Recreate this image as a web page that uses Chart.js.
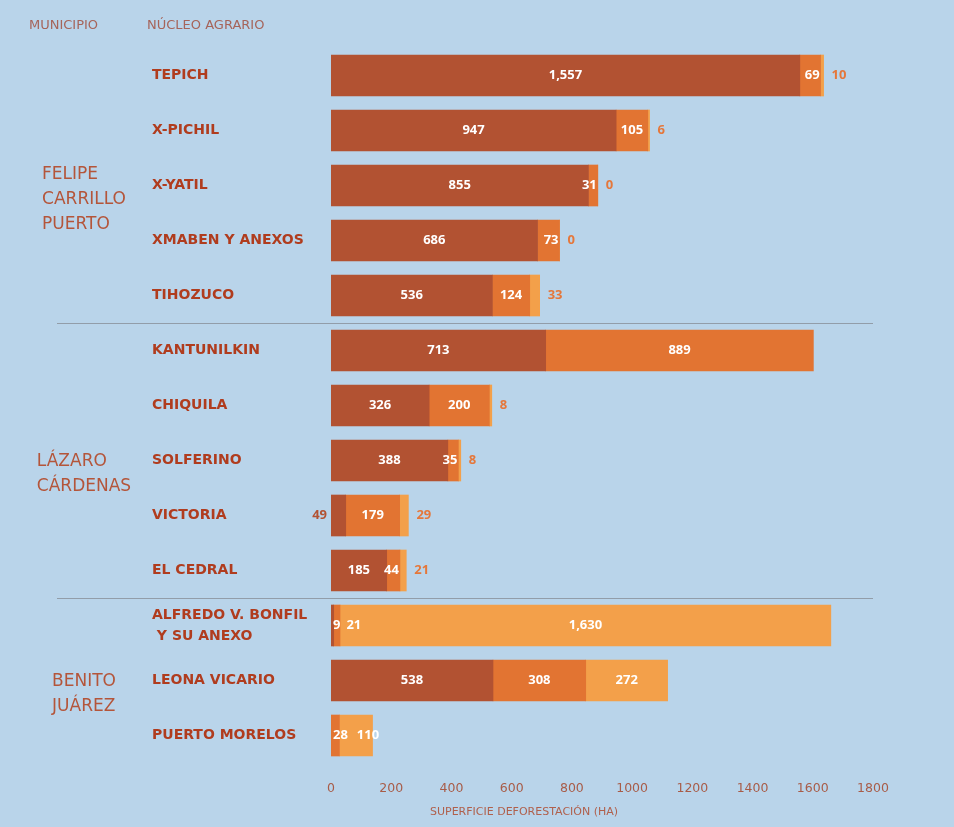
<!DOCTYPE html>
<html>
<head>
<meta charset="utf-8">
<script src="https://cdn.jsdelivr.net/npm/chart.js@4/dist/chart.umd.min.js"></script>
<style>
  body { margin: 0; background: #b9d4ea; }
  #contenedor { width: 954px; height: 827px; position: relative; }
</style>
</head>
<body>
<div id="contenedor"><canvas id="grafica"></canvas></div>
<script>
const nucleos = [
  'TEPICH', 'X-PICHIL', 'X-YATIL', 'XMABEN Y ANEXOS', 'TIHOZUCO',
  'KANTUNILKIN', 'CHIQUILA', 'SOLFERINO', 'VICTORIA', 'EL CEDRAL',
  ['ALFREDO V. BONFIL', ' Y SU ANEXO'], 'LEONA VICARIO', 'PUERTO MORELOS'
];
const municipios = [['FELIPE', 'CARRILLO', 'PUERTO'], ['LÁZARO', 'CÁRDENAS'], ['BENITO', 'JUÁREZ']];
const inicioGrupo = [0, 5, 10];
const finGrupo = [4, 9, 12];

const periodo1 = [1557, 947, 855, 686, 536, 713, 326, 388, 49, 185, 9, 538, null];
const periodo2 = [69, 105, 31, 73, 124, 889, 200, 35, 179, 44, 21, 308, 28];
const periodo3 = [10, 6, 0, 0, 33, null, 8, 8, 29, 21, 1630, 272, 110];

const tituloEje = 'SUPERFICIE DEFORESTACIÓN (HA)';
const encabezados = ['MUNICIPIO', 'NÚCLEO AGRARIO'];

const cafe = '#b25232';
const naranja = '#e27432';
const claro = '#f3a04a';

// etiquetas de cada segmento: dentro en blanco si caben, si no a un lado
const etiquetasSegmento = {
  id: 'etiquetasSegmento',
  afterDatasetsDraw(chart) {
    const ctx = chart.ctx;
    ctx.save();
    ctx.font = 'bold 13px "Open Sans"';
    ctx.textBaseline = 'middle';
    nucleos.forEach((n, i) => {
      const segs = [];
      chart.data.datasets.forEach((ds, d) => {
        const v = ds.data[i];
        if (v === null) return;
        const el = chart.getDatasetMeta(d).data[i];
        const texto = v.toLocaleString('en-US');
        const tw = ctx.measureText(texto).width;
        segs.push({ d, v, texto, tw, x0: el.base, x1: el.x, y: el.y, cabe: (el.x - el.base) >= tw + 8 });
      });
      if (!segs.length) return;
      const fin = Math.max(...segs.map(s => s.x1));
      let dentro = segs[0].x0 + 2;
      let fuera = fin + 8;
      segs.forEach((s, k) => {
        const despuesCabe = segs.slice(k + 1).some(t => t.cabe);
        ctx.textAlign = 'left';
        if (s.cabe) {
          ctx.fillStyle = '#ffffff';
          const x = Math.max((s.x0 + s.x1) / 2 - s.tw / 2, dentro + 3);
          ctx.fillText(s.texto, x, s.y);
          dentro = x + s.tw;
        } else if (s.d === 0 && segs[k + 1] && segs[k + 1].cabe) {
          ctx.fillStyle = cafe;
          ctx.textAlign = 'right';
          ctx.fillText(s.texto, s.x0 - 4, s.y);
        } else if (despuesCabe) {
          ctx.fillStyle = '#ffffff';
          ctx.fillText(s.texto, dentro, s.y);
          dentro += s.tw + 6;
        } else if (k > 0 && segs[k - 1].cabe && s.d === 1 && s.v > 0) {
          ctx.fillStyle = '#ffffff';
          ctx.textAlign = 'right';
          ctx.fillText(s.texto, s.x1 - 1, s.y);
        } else {
          ctx.fillStyle = '#e5773a';
          ctx.fillText(s.texto, fuera, s.y);
          fuera += s.tw + 8;
        }
      });
    });
    ctx.restore();
  }
};

// encabezados, municipios, separadores y título del eje
const decoracion = {
  id: 'decoracion',
  afterDraw(chart) {
    const ctx = chart.ctx;
    const y = chart.scales.y;
    const area = chart.chartArea;
    ctx.save();
    ctx.textBaseline = 'middle';
    ctx.textAlign = 'left';

    ctx.font = '13px "DejaVu Sans"';
    ctx.fillStyle = '#a6645a';
    ctx.fillText(encabezados[0], 29, 26);
    ctx.fillText(encabezados[1], 147, 26);

    ctx.font = '17px "DejaVu Sans"';
    ctx.fillStyle = '#b4553a';
    municipios.forEach((lineas, g) => {
      const centro = (y.getPixelForValue(inicioGrupo[g]) + y.getPixelForValue(finGrupo[g])) / 2 + 14;
      const ancho = Math.max(...lineas.map(l => ctx.measureText(l).width));
      const x = 84 - ancho / 2;
      lineas.forEach((l, j) => {
        ctx.fillText(l, x, centro + (j - (lineas.length - 1) / 2) * 25);
      });
    });

    ctx.strokeStyle = 'rgba(120, 120, 125, 0.6)';
    ctx.lineWidth = 1;
    for (let g = 1; g < inicioGrupo.length; g++) {
      const ys = Math.round((y.getPixelForValue(finGrupo[g - 1]) + y.getPixelForValue(inicioGrupo[g])) / 2) + 0.5;
      ctx.beginPath();
      ctx.moveTo(57, ys);
      ctx.lineTo(area.right, ys);
      ctx.stroke();
    }

    ctx.font = '11px "DejaVu Sans"';
    ctx.fillStyle = '#b0604c';
    ctx.fillText(tituloEje, area.left + 99, 812);
    ctx.restore();
  }
};

new Chart(document.getElementById('grafica'), {
  type: 'bar',
  data: {
    labels: nucleos,
    datasets: [
      { label: 'Periodo 1', data: periodo1, backgroundColor: cafe },
      { label: 'Periodo 2', data: periodo2, backgroundColor: naranja },
      { label: 'Periodo 3', data: periodo3, backgroundColor: claro }
    ]
  },
  options: {
    indexAxis: 'y',
    responsive: true,
    maintainAspectRatio: false,
    animation: false,
    datasets: { bar: { barThickness: 41, borderWidth: 0 } },
    layout: { padding: { left: 152, right: 81, top: 48, bottom: 13 } },
    plugins: {
      legend: { display: false },
      tooltip: { enabled: false }
    },
    scales: {
      x: {
        stacked: true,
        min: 0,
        max: 1800,
        grid: { display: false, drawTicks: false },
        border: { display: false },
        ticks: {
          stepSize: 200,
          padding: 18,
          color: '#a85c48',
          font: { family: 'DejaVu Sans', size: 12.5 },
          callback: (v) => v.toString()
        }
      },
      y: {
        stacked: true,
        grid: { display: false, drawTicks: false },
        border: { display: false },
        afterFit: (scale) => { scale.width = 179; },
        ticks: {
          crossAlign: 'far',
          padding: 0,
          color: '#b03c1e',
          font: { family: 'DejaVu Sans', size: 14, weight: 'bold', lineHeight: 1.5 }
        }
      }
    }
  },
  plugins: [etiquetasSegmento, decoracion]
});
</script>
</body>
</html>
